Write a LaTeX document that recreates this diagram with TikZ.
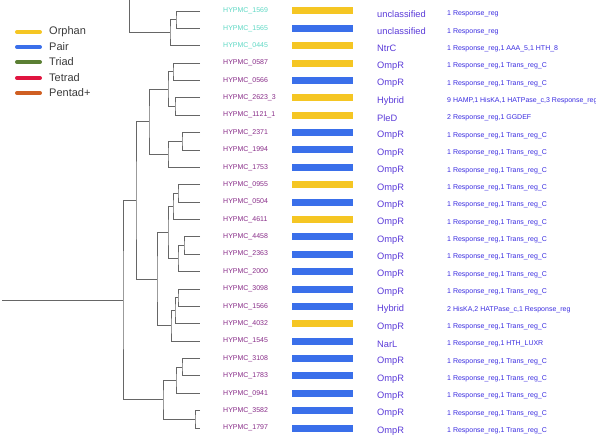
\documentclass[tikz,border=0pt]{standalone}
\usepackage{fontspec}
\setmainfont{Liberation Sans}
\definecolor{orph}{HTML}{F5C623}
\definecolor{pair}{HTML}{3A6FEA}
\definecolor{triad}{HTML}{5B7F33}
\definecolor{tetrad}{HTML}{E01540}
\definecolor{pentad}{HTML}{CF5F22}
\definecolor{turq}{HTML}{5FD8C4}
\definecolor{purp}{HTML}{882C88}
\definecolor{typec}{HTML}{5A3AD8}
\definecolor{domc}{HTML}{3A2CE0}
\definecolor{treec}{HTML}{666666}
\definecolor{legc}{HTML}{3A3A3A}
\def\dR{1 Response\_reg}
\def\dT{1 Response\_reg,1 Trans\_reg\_C}
\def\dN{1 Response\_reg,1 AAA\_5,1 HTH\_8}
\def\dHa{9 HAMP,1 HisKA,1 HATPase\_c,3 Response\_reg}
\def\dP{2 Response\_reg,1 GGDEF}
\def\dHb{2 HisKA,2 HATPase\_c,1 Response\_reg}
\def\dL{1 Response\_reg,1 HTH\_LUXR}
\begin{document}
\begin{tikzpicture}[x=1pt,y=-1pt,
  branch/.style={draw=treec, line width=0.9pt},
  leaflab/.style={anchor=west, inner sep=0pt, font=\fontsize{7}{8}\selectfont},
  typelab/.style={anchor=west, inner sep=0pt, text=typec, font=\fontsize{9.3}{10}\selectfont},
  domlab/.style={anchor=west, inner sep=0pt, text=domc, font=\fontsize{7}{8}\selectfont},
  barbox/.style={minimum width=61pt, minimum height=7pt, inner sep=0pt, anchor=west, draw=none},
  legline/.style={line width=4pt, line cap=round},
  legtext/.style={anchor=west, inner sep=0pt, text=legc, font=\fontsize{11}{12}\selectfont}]
\useasboundingbox (0,0) rectangle (596,438);

% legend
\foreach \ly/\lcol/\ltxt [count=\k] in {32/orph/Orphan,47/pair/Pair,62/triad/Triad,78/tetrad/Tetrad,93/pentad/Pentad+}{
  \coordinate (lga\k) at (17,\ly);
  \coordinate (lgb\k) at (40,\ly);
  \draw[legline, \lcol] (lga\k) -- (lgb\k);
  \node[legtext] (lgt\k) at (49,\ly) {\ltxt};
}

% rows
\foreach \i/\lc/\bc/\nm/\ty/\dm in {
 1/turq/orph/1569/unclassified/\dR,
 2/turq/pair/1565/unclassified/\dR,
 3/turq/orph/0445/NtrC/\dN,
 4/purp/orph/0587/OmpR/\dT,
 5/purp/pair/0566/OmpR/\dT,
 6/purp/orph/2623\_3/Hybrid/\dHa,
 7/purp/orph/1121\_1/PleD/\dP,
 8/purp/pair/2371/OmpR/\dT,
 9/purp/pair/1994/OmpR/\dT,
 10/purp/pair/1753/OmpR/\dT,
 11/purp/orph/0955/OmpR/\dT,
 12/purp/pair/0504/OmpR/\dT,
 13/purp/orph/4611/OmpR/\dT,
 14/purp/pair/4458/OmpR/\dT,
 15/purp/pair/2363/OmpR/\dT,
 16/purp/pair/2000/OmpR/\dT,
 17/purp/pair/3098/OmpR/\dT,
 18/purp/pair/1566/Hybrid/\dHb,
 19/purp/orph/4032/OmpR/\dT,
 20/purp/pair/1545/NarL/\dL,
 21/purp/pair/3108/OmpR/\dT,
 22/purp/pair/1783/OmpR/\dT,
 23/purp/pair/0941/OmpR/\dT,
 24/purp/pair/3582/OmpR/\dT,
 25/purp/pair/1797/OmpR/\dT}{
  \pgfmathsetmacro\yy{11+(\i-1)*17.375}
  \pgfmathsetmacro\yt{\yy+3}
  \coordinate (t\i) at (200,\yy);
  \node[leaflab, text=\lc] (n\i) at (223,\yy) {HYPMC\_\nm};
  \node[barbox, fill=\bc] (b\i) at (292,\yy) {};
  \node[typelab] (y\i) at (377,\yt) {\ty};
  \node[domlab] (d\i) at (447,\yt) {\dm};
}

% internal nodes
\coordinate (A) at (176,19.69);
\coordinate (B) at (170,32.72);
\coordinate (topc) at (129,0);
\coordinate (C) at (173,71.81);
\coordinate (D) at (175,106.56);
\coordinate (E) at (168,89.19);
\coordinate (F) at (182,141.31);
\coordinate (G) at (168,154.34);
\coordinate (H) at (149,121.77);
\coordinate (I) at (178,193.44);
\coordinate (J) at (173,206.47);
\coordinate (K) at (184,245.56);
\coordinate (L) at (178,258.59);
\coordinate (M) at (168,232.53);
\coordinate (N) at (178,297.69);
\coordinate (O) at (175,310.72);
\coordinate (P) at (171,325.92);
\coordinate (Q) at (157,279.23);
\coordinate (R) at (136,200.5);
\coordinate (S) at (182,367.19);
\coordinate (T) at (176,380.22);
\coordinate (U) at (195,419.31);
\coordinate (V) at (163,399.77);
\coordinate (W) at (123,300.13);
\coordinate (root) at (2,300.13);

\draw[branch] (t1) -| (A) |- (t2);
\draw[branch] (A) -| (B) |- (t3);
\draw[branch] (topc) |- (B);
\draw[branch] (t4) -| (C) |- (t5);
\draw[branch] (t6) -| (D) |- (t7);
\draw[branch] (C) -| (E) |- (D);
\draw[branch] (t8) -| (F) |- (t9);
\draw[branch] (F) -| (G) |- (t10);
\draw[branch] (E) -| (H) |- (G);
\draw[branch] (t11) -| (I) |- (t12);
\draw[branch] (I) -| (J) |- (t13);
\draw[branch] (t14) -| (K) |- (t15);
\draw[branch] (K) -| (L) |- (t16);
\draw[branch] (J) -| (M) |- (L);
\draw[branch] (t17) -| (N) |- (t18);
\draw[branch] (N) -| (O) |- (t19);
\draw[branch] (O) -| (P) |- (t20);
\draw[branch] (M) -| (Q) |- (P);
\draw[branch] (H) -| (R) |- (Q);
\draw[branch] (t21) -| (S) |- (t22);
\draw[branch] (S) -| (T) |- (t23);
\draw[branch] (t24) -| (U) |- (t25);
\draw[branch] (T) -| (V) |- (U);
\draw[branch] (R) -| (W) |- (V);
\draw[branch] (root) -- (W);
\end{tikzpicture}
\end{document}
